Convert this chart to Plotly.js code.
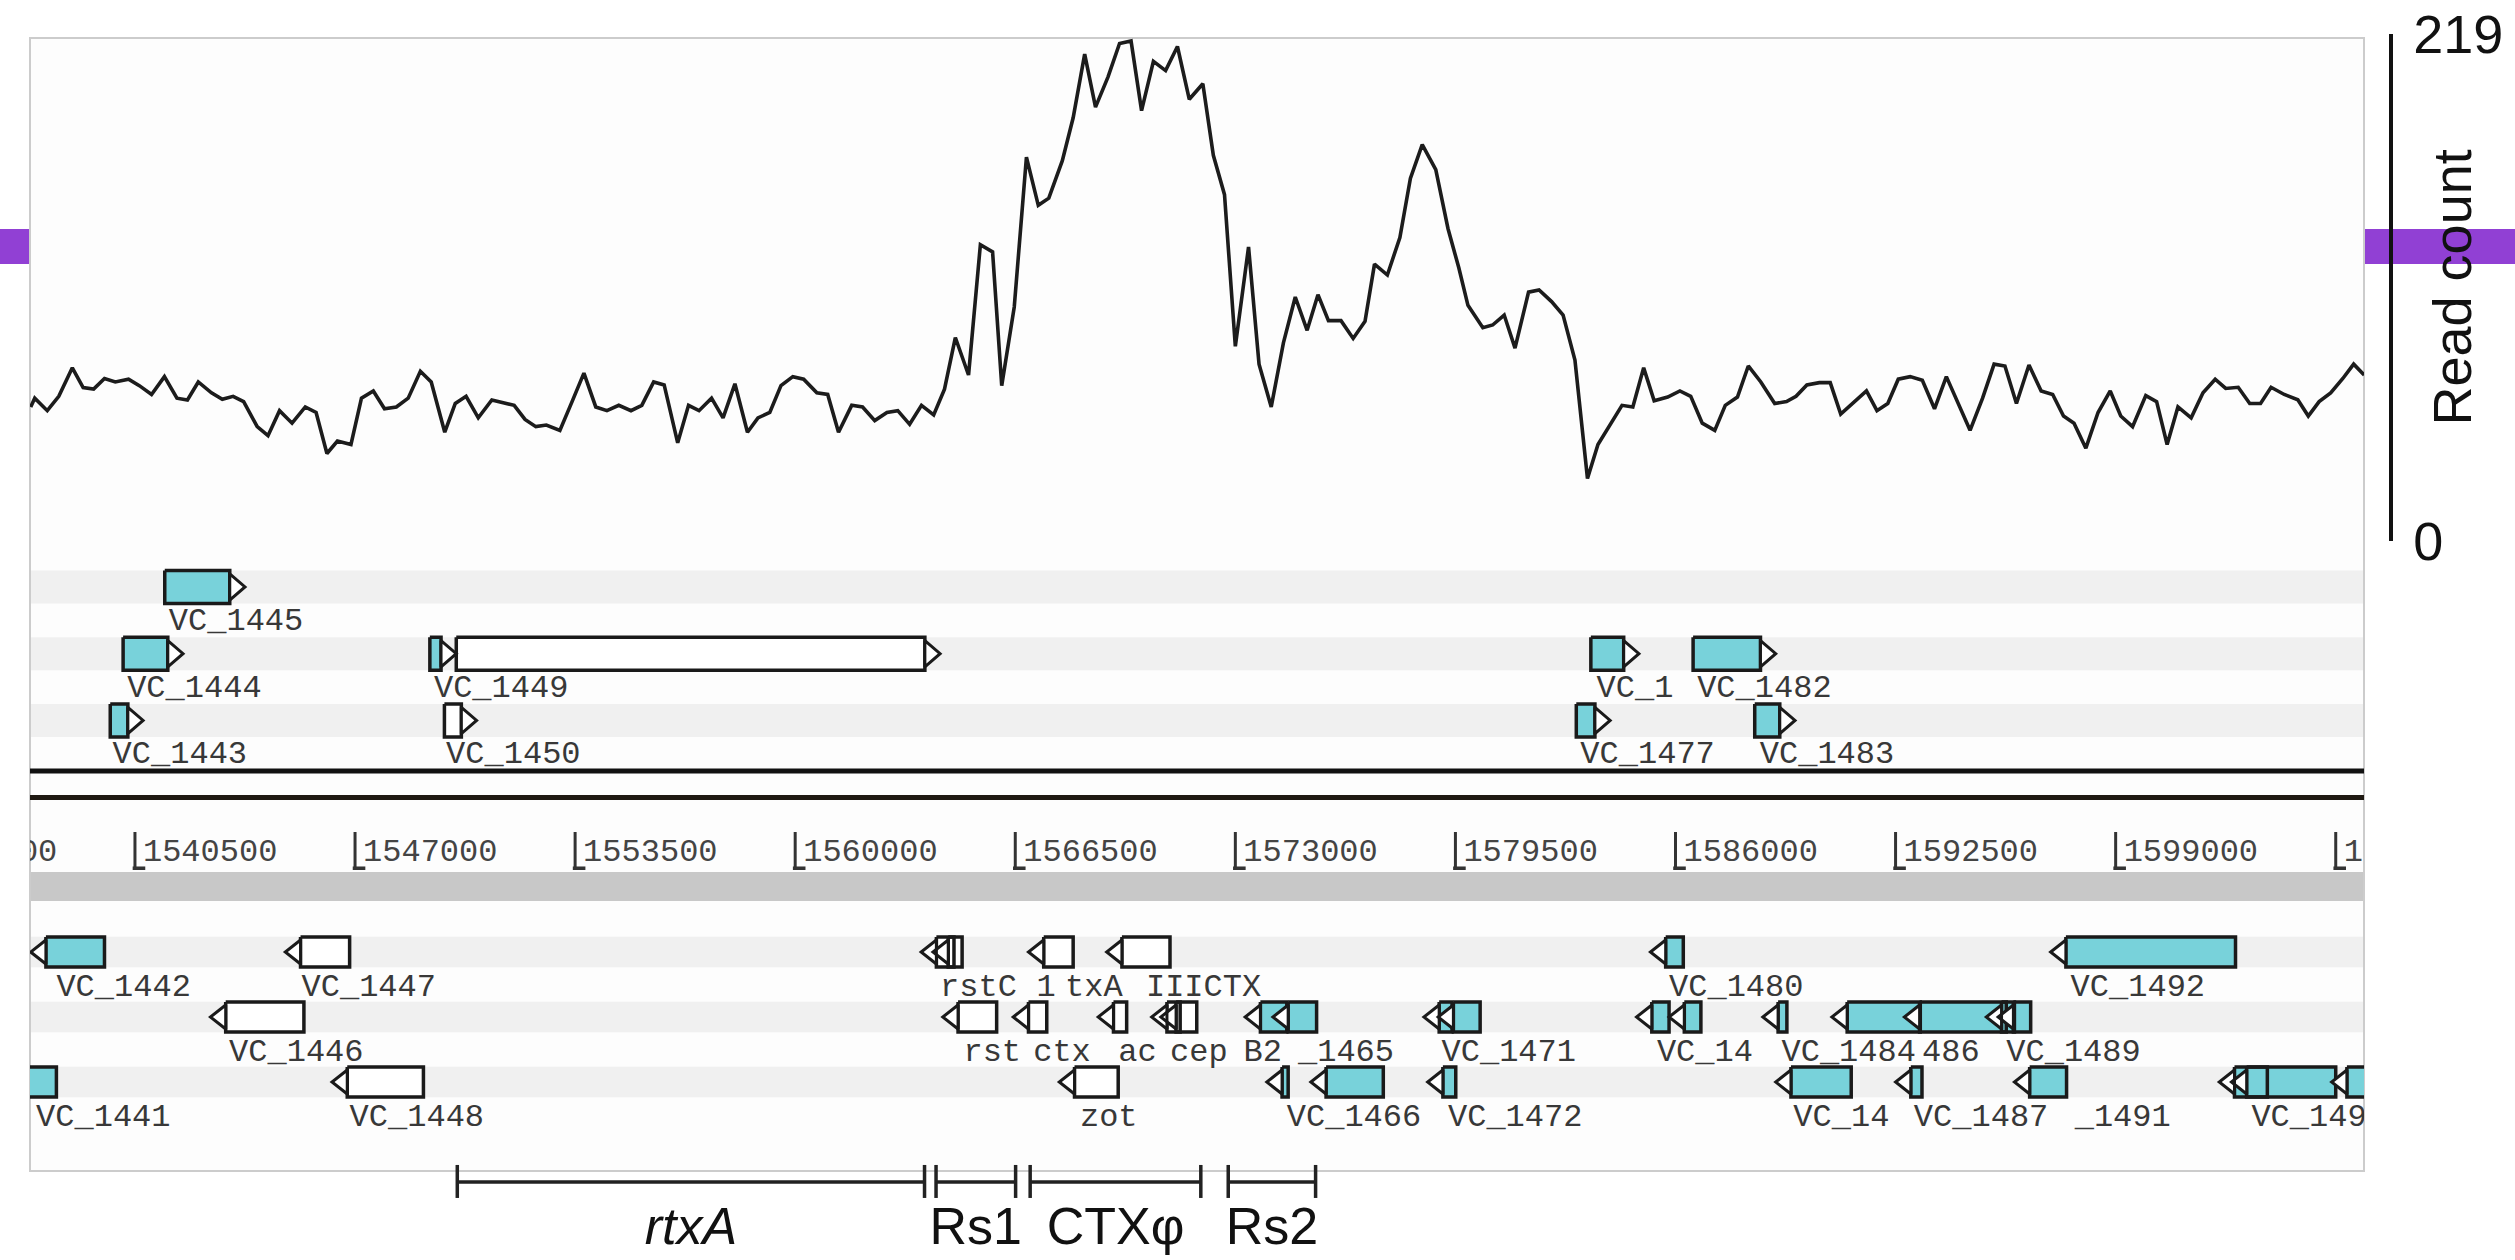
<!DOCTYPE html>
<html>
<head>
<meta charset="utf-8">
<script src="https://cdn.plot.ly/plotly-3.0.1.min.js"></script>
<style>
html,body{margin:0;padding:0;background:#ffffff;}
#chart{width:2515px;height:1260px;}
</style>
</head>
<body>
<div id="chart"></div>
<script>
// ---------------- DATA ----------------
// Read-count profile (genome position in bp, read count)
const readPos = [1537420,1537540,1537910,1538250,1538650,1538970,1539280,1539600,1539920,1540310,
1540630,1540990,1541370,1541740,1542050,1542370,1542760,1543080,1543400,1543710,
1544110,1544430,1544770,1545140,1545530,1545850,1546170,1546480,1546880,1547190,
1547540,1547870,1548220,1548570,1548930,1549250,1549650,1549960,1550280,1550640,
1551040,1551390,1551700,1552020,1552340,1552650,1553050,1553410,1553760,1554110,
1554440,1554790,1555150,1555470,1555820,1556130,1556530,1556850,1557160,1557530,
1557870,1558220,1558590,1558900,1559250,1559580,1559930,1560250,1560640,1560960,
1561280,1561670,1561990,1562350,1562710,1563030,1563380,1563730,1564090,1564410,
1564730,1565120,1565470,1565830,1566100,1566470,1566830,1567180,1567490,1567890,
1568210,1568550,1568870,1569240,1569580,1569920,1570230,1570580,1570940,1571290,
1571640,1572040,1572350,1572680,1573000,1573390,1573700,1574060,1574420,1574770,
1575120,1575440,1575750,1576120,1576480,1576830,1577110,1577490,1577860,1578170,
1578520,1578920,1579280,1579600,1579870,1580310,1580600,1580940,1581260,1581660,
1581970,1582340,1582680,1583030,1583400,1583710,1584110,1584420,1584740,1585060,
1585370,1585770,1586130,1586450,1586790,1587160,1587470,1587830,1588150,1588520,
1588930,1589280,1589560,1589880,1590250,1590570,1590880,1591290,1591640,1591950,
1592270,1592580,1592930,1593290,1593650,1594000,1594360,1594700,1595070,1595410,
1595730,1596070,1596440,1596800,1597140,1597460,1597770,1598120,1598480,1598840,
1599150,1599500,1599890,1600210,1600520,1600840,1601230,1601580,1601940,1602250,
1602620,1602960,1603280,1603590,1603980,1604380,1604690,1605010,1605350,1605710,
1606030,1606340];
const readCount = [57.9,61.7,56.3,62.5,74.8,66.3,65.6,70.2,68.7,69.9,
67.1,63.3,71.0,61.7,60.9,68.7,64.0,61.2,62.5,60.2,
49.4,45.5,56.3,50.9,57.9,55.5,37.8,43.2,41.7,61.7,
64.8,57.1,57.9,61.7,73.3,68.7,47.0,59.4,62.5,53.2,
60.9,59.7,58.6,52.5,49.4,50.1,47.8,60.2,72.5,57.9,
56.3,58.6,56.3,58.6,68.7,67.4,42.4,58.6,56.3,61.7,
53.2,67.9,47.0,53.2,55.5,67.1,71.0,69.9,64.0,63.3,
47.0,58.6,57.9,52.0,55.5,56.3,50.4,58.6,54.5,65.6,
87.9,71.7,128.0,124.9,67.1,101.1,165.8,145.0,148.1,164.3,
182.8,210.3,187.4,200.5,214.9,216.0,185.9,207.2,203.2,213.6,
190.8,197.5,166.6,149.6,84.1,127.0,76.4,57.9,85.6,105.4,
91.0,106.4,95.2,95.2,87.5,94.9,119.6,114.9,131.1,156.6,
171.2,160.4,135.0,118.0,101.8,92.1,93.3,97.6,83.3,107.5,
108.4,103.4,97.6,78.2,27.0,41.7,50.9,58.6,57.9,74.8,
60.6,62.2,64.8,62.5,50.9,47.8,58.6,62.2,75.6,68.7,
59.4,60.2,62.5,67.4,68.4,68.4,54.8,60.2,64.8,56.3,
59.4,69.9,71.0,69.4,57.1,71.0,59.4,47.8,61.7,76.4,
75.6,59.4,76.0,64.8,63.3,54.0,50.9,40.1,55.5,64.8,
54.0,49.4,62.8,60.2,41.7,57.9,53.2,64.0,69.9,65.9,
66.4,59.4,59.4,66.4,63.3,61.0,54.0,60.2,64.0,70.2,
76.4,71.7];
const readAxisTicks = [0, 219];

// Genes: start/end (bp), strand, lane, track (U = upper, L = lower), highlighted (1 = cyan)
const geneStart  = [1541380,1540150,1549210,1549990,1583500,1586520,1539770,1549640,1583070,1588340,
  1537420,1544940,1563720,1564070,1566890,1569200,1585260,1597080,
  1542730,1564360,1566440,1568950,1570530,1570800,1573290,1574110,1578570,1578990,1584850,1585810,1588580,1590620,1592760,1595180,1595530,
  1536500,1546320,1567800,1573930,1575230,1578680,1588960,1592500,1596010,1602060,1602420,1605380];
const geneEnd    = [1543750,1541920,1549990,1564280,1584920,1588960,1540740,1550590,1584070,1589530,
  1539600,1546840,1564930,1564690,1568210,1571070,1586230,1602540,
  1545490,1565950,1567430,1569790,1571370,1571860,1574520,1575400,1579400,1580230,1585810,1586750,1589290,1593230,1595770,1596010,1596490,
  1538180,1549020,1569540,1574560,1577370,1579510,1591190,1593280,1597550,1605500,1603480,1607500];
const geneStrand = [1,1,1,1,1,1,1,1,1,1,
  -1,-1,-1,-1,-1,-1,-1,-1,
  -1,-1,-1,-1,-1,-1,-1,-1,-1,-1,-1,-1,-1,-1,-1,-1,-1,
  -1,-1,-1,-1,-1,-1,-1,-1,-1,-1,-1,-1];
const geneLane   = [0,1,1,1,1,1,2,2,2,2,
  0,0,0,0,0,0,0,0,
  1,1,1,1,1,1,1,1,1,1,1,1,1,1,1,1,1,
  2,2,2,2,2,2,2,2,2,2,2,2];
const geneTrack  = ['U','U','U','U','U','U','U','U','U','U',
  'L','L','L','L','L','L','L','L',
  'L','L','L','L','L','L','L','L','L','L','L','L','L','L','L','L','L',
  'L','L','L','L','L','L','L','L','L','L','L','L'];
const geneHit    = [1,1,1,0,1,1,1,0,1,1,
  1,0,0,0,0,0,1,1,
  0,0,0,0,0,0,1,1,1,1,1,1,1,1,1,1,1,
  1,0,0,1,1,1,1,1,1,1,1,1];

// Gene labels as displayed (truncated where the browser truncated them)
const labelText  = ['VC_1445','VC_1444','VC_1449','VC_1','VC_1482','VC_1443','VC_1450','VC_1477','VC_1483',
  'VC_1442','VC_1447','rstC','1','txA','IIICTX','VC_1480','VC_1492',
  'VC_1446','rst','ctx','ac','cep','B2','_1465','VC_1471','VC_14','VC_1484','486','VC_1489',
  'VC_1441','VC_1448','zot','VC_1466','VC_1472','VC_14','VC_1487','_1491','VC_1493'];
const labelPos   = [1541500,1540270,1549330,1583670,1586640,1539840,1549690,1583190,1588490,
  1538180,1545420,1564280,1567130,1567970,1570360,1585810,1597670,
  1543280,1564970,1567030,1569540,1571070,1573240,1574850,1579090,1585450,1589130,1593280,1595770,
  1537580,1546840,1568410,1574520,1579280,1589480,1593040,1597790,1603010];
const labelLane  = [0,1,1,1,1,2,2,2,2,
  0,0,0,0,0,0,0,0,
  1,1,1,1,1,1,1,1,1,1,1,1,
  2,2,2,2,2,2,2,2,2];
const labelTrack = ['U','U','U','U','U','U','U','U','U',
  'L','L','L','L','L','L','L','L',
  'L','L','L','L','L','L','L','L','L','L','L','L',
  'L','L','L','L','L','L','L','L','L'];

// Ruler ticks
const rulerTicks = [1534000,1540500,1547000,1553500,1560000,1566500,1573000,1579500,1586000,1592500,1599000,1605500];

// Annotated regions below the panel
const regionName  = ['rtxA','Rs1','CTXφ','Rs2'];
const regionStart = [1550020,1564160,1566940,1572790];
const regionEnd   = [1563820,1566510,1571980,1575370];

// ---------------- LAYOUT HELPERS ----------------
const W = 2515, H = 1260;
const X_RANGE = [1537400, 1606335];
const XD = [30 / W, 2364 / W];
const py = p => 1 - p / H;             // pixel row -> paper y
const bpPerPx = (X_RANGE[1] - X_RANGE[0]) / (2364 - 30);
const TIP_BP = 450;
const CYAN = '#78d2da';
const OUTLINE = '#1a1a1a';
const MONO = 'Liberation Mono, Courier New, monospace';
const SANS = 'Liberation Sans, Arial, sans-serif';

function geneTraces(track, yaxis, halfH) {
  const rw = {x: [], y: []}, rc = {x: [], y: []}, tp = {x: [], y: []};
  for (let i = 0; i < geneStart.length; i++) {
    if (geneTrack[i] !== track) continue;
    const s = geneStart[i], e = geneEnd[i], k = geneLane[i];
    const tip = Math.min(TIP_BP, 0.75 * (e - s));
    let r0, r1, tb, tpt;
    if (geneStrand[i] > 0) { r0 = s; r1 = e - tip; tb = e - tip; tpt = e; }
    else { r0 = s + tip; r1 = e; tb = s + tip; tpt = s; }
    const t = geneHit[i] ? rc : rw;
    t.x.push(r0, r1, r1, r0, r0, null);
    t.y.push(k - halfH, k - halfH, k + halfH, k + halfH, k - halfH, null);
    const h2 = halfH * 0.8;
    tp.x.push(tb, tpt, tb, tb, null);
    tp.y.push(k - h2, k, k + h2, k - h2, null);
  }
  const base = {type: 'scatter', mode: 'lines', fill: 'toself', xaxis: 'x', yaxis: yaxis,
                hoverinfo: 'skip', line: {color: OUTLINE, width: 3.5}};
  return [
    Object.assign({}, base, {x: rw.x, y: rw.y, fillcolor: '#ffffff'}),
    Object.assign({}, base, {x: rc.x, y: rc.y, fillcolor: CYAN}),
    Object.assign({}, base, {x: tp.x, y: tp.y, fillcolor: '#ffffff', line: {color: OUTLINE, width: 3}})
  ];
}

function labelTrace(track, yaxis, off) {
  const x = [], y = [], t = [];
  for (let i = 0; i < labelText.length; i++) {
    if (labelTrack[i] !== track) continue;
    x.push(labelPos[i]); y.push(labelLane[i] + off); t.push(labelText[i]);
  }
  return {type: 'scatter', mode: 'text', x: x, y: y, text: t, xaxis: 'x', yaxis: yaxis,
          textposition: 'middle right', cliponaxis: true, hoverinfo: 'skip',
          textfont: {family: MONO, size: 32, color: '#383838'}};
}

// ---------------- TRACES ----------------
const traces = [];

traces.push({type: 'scatter', mode: 'lines', x: readPos, y: readCount, xaxis: 'x', yaxis: 'y',
  line: {color: '#1c1c1c', width: 3.6}, hoverinfo: 'skip'});

traces.push(...geneTraces('U', 'y2', 0.247));
traces.push(labelTrace('U', 'y2', 0.524));
traces.push(...geneTraces('L', 'y3', 0.23));
traces.push(labelTrace('L', 'y3', 0.546));

// ruler ticks (vertical stroke + small foot) + labels
traces.push({type: 'scatter', mode: 'markers', x: rulerTicks, y: rulerTicks.map(() => 0.5),
  xaxis: 'x', yaxis: 'y4', cliponaxis: true, hoverinfo: 'skip',
  marker: {symbol: 'line-ns', size: 38, color: '#333', line: {width: 3, color: '#333'}}});
traces.push({type: 'scatter', mode: 'markers', x: rulerTicks.map(v => v + 4 * bpPerPx),
  y: rulerTicks.map(() => 0.04),
  xaxis: 'x', yaxis: 'y4', cliponaxis: true, hoverinfo: 'skip',
  marker: {symbol: 'line-ew', size: 9, color: '#333', line: {width: 4, color: '#333'}}});
traces.push({type: 'scatter', mode: 'text', x: rulerTicks.map(v => v + 8 * bpPerPx),
  y: rulerTicks.map(() => 0.45), text: rulerTicks.map(v => String(v)),
  xaxis: 'x', yaxis: 'y4', textposition: 'middle right', cliponaxis: true, hoverinfo: 'skip',
  textfont: {family: MONO, size: 32, color: '#444'}});

// region brackets
{
  const bx = [], by = [];
  for (let i = 0; i < regionName.length; i++) {
    const s = regionStart[i], e = regionEnd[i];
    bx.push(s, s, null, s, e, null, e, e, null);
    by.push(0.864, 0.564, null, 0.709, 0.709, null, 0.864, 0.564, null);
  }
  traces.push({type: 'scatter', mode: 'lines', x: bx, y: by, xaxis: 'x', yaxis: 'y5',
    line: {color: '#222', width: 3.5}, hoverinfo: 'skip', cliponaxis: false});
  traces.push({type: 'scatter', mode: 'text', xaxis: 'x', yaxis: 'y5',
    x: regionStart.map((s, i) => (s + regionEnd[i]) / 2), y: regionName.map(() => 0.26),
    text: regionName.map(n => n === 'rtxA' ? '<i>' + n + '</i>' : n),
    textposition: 'middle center', cliponaxis: false, hoverinfo: 'skip',
    textfont: {family: SANS, size: 52, color: '#111'}});
}

// ---------------- SHAPES ----------------
const shapes = [];
// purple highlight band (behind panel)
shapes.push({type: 'rect', xref: 'paper', yref: 'paper', layer: 'below',
  x0: 0, x1: 1, y0: py(264), y1: py(229), fillcolor: '#9140d4', line: {width: 0}});
// white panel cover
shapes.push({type: 'rect', xref: 'paper', yref: 'paper', layer: 'below',
  x0: XD[0], x1: XD[1], y0: py(1171), y1: py(38), fillcolor: '#fdfdfd', line: {width: 0}});
// lane bands
for (let k = 0; k < 3; k++) {
  shapes.push({type: 'rect', xref: 'paper', yref: 'y2', layer: 'below',
    x0: XD[0], x1: XD[1], y0: k - 0.247, y1: k + 0.247, fillcolor: '#f0f0f0', line: {width: 0}});
  shapes.push({type: 'rect', xref: 'paper', yref: 'y3', layer: 'below',
    x0: XD[0], x1: XD[1], y0: k - 0.235, y1: k + 0.235, fillcolor: '#f0f0f0', line: {width: 0}});
}
// ruler grey bar
shapes.push({type: 'rect', xref: 'paper', yref: 'paper', layer: 'below',
  x0: XD[0], x1: XD[1], y0: py(901), y1: py(872), fillcolor: '#c8c8c8', line: {width: 0}});
// double separator lines
shapes.push({type: 'line', xref: 'paper', yref: 'paper', layer: 'above',
  x0: XD[0], x1: XD[1], y0: py(771), y1: py(771), line: {color: '#111', width: 5}});
shapes.push({type: 'line', xref: 'paper', yref: 'paper', layer: 'above',
  x0: XD[0], x1: XD[1], y0: py(797.5), y1: py(797.5), line: {color: '#1f1912', width: 5}});
// panel border
shapes.push({type: 'rect', xref: 'paper', yref: 'paper', layer: 'below',
  x0: XD[0], x1: XD[1], y0: py(1171), y1: py(38), fillcolor: 'rgba(0,0,0,0)',
  line: {color: '#cccccc', width: 2}});

const hidden = {visible: false, showgrid: false, zeroline: false, fixedrange: true};

const layout = {
  width: W, height: H,
  margin: {l: 0, r: 0, t: 0, b: 0},
  paper_bgcolor: '#ffffff', plot_bgcolor: 'rgba(0,0,0,0)',
  showlegend: false,
  xaxis: Object.assign({}, hidden, {domain: XD, range: X_RANGE, anchor: 'y3'}),
  yaxis: {domain: [py(541), py(34)], range: [0, 219], side: 'right', anchor: 'free',
    position: 2390 / W, showline: true, linecolor: '#111', linewidth: 3.5,
    ticks: '', tickvals: readAxisTicks, ticktext: readAxisTicks.map(String),
    ticklabelstandoff: 10,
    tickfont: {family: SANS, size: 54, color: '#111'},
    showgrid: false, zeroline: false, fixedrange: true},
  yaxis2: Object.assign({}, hidden, {domain: [py(770), py(560)], range: [2.742, -0.404], anchor: 'x'}),
  yaxis3: Object.assign({}, hidden, {domain: [py(1171), py(903)], range: [3.369, -0.754], anchor: 'x'}),
  yaxis4: Object.assign({}, hidden, {domain: [py(870), py(832)], range: [0, 1], anchor: 'x'}),
  yaxis5: Object.assign({}, hidden, {domain: [0, py(1150)], range: [0, 1], anchor: 'x'}),
  shapes: shapes,
  annotations: [{
    text: 'Read count', xref: 'paper', yref: 'paper', x: 2452 / W, y: py(287.5),
    xanchor: 'center', yanchor: 'middle', textangle: -90, showarrow: false,
    font: {family: SANS, size: 54, color: '#111'}
  }]
};

Plotly.newPlot('chart', traces, layout, {displayModeBar: false, staticPlot: true});
</script>
</body>
</html>
